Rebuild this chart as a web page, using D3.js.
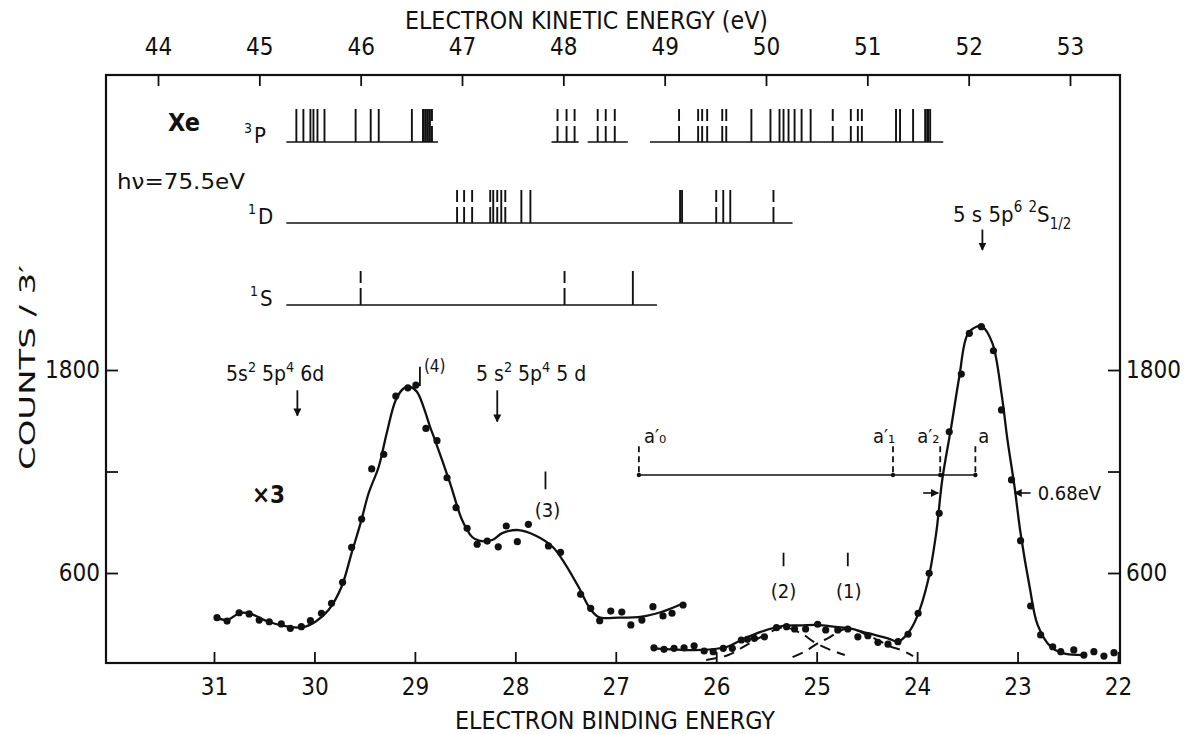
<!DOCTYPE html>
<html><head><meta charset="utf-8">
<script src="https://cdn.jsdelivr.net/npm/d3@7/dist/d3.min.js"></script>
<style>
body{margin:0;background:#fff;}
svg text{font-family:"DejaVu Sans Condensed","Liberation Sans Narrow","Roboto Condensed","DejaVu Sans",sans-serif;font-stretch:condensed;fill:#111;}
</style></head><body>
<svg id="chart" width="1185" height="734"></svg>
<script>
// ---------- axis ticks ----------
const bindingTicks = [31,30,29,28,27,26,25,24,23,22];
const kineticTicks = [44,45,46,47,48,49,50,51,52,53];
const countTicks = [600,1200,1800];
const countTickLabels = ["600","","1800"];

// ---------- 5s2 5p4 nl satellite region (x3), measured points ----------
const satBE = [30.97,30.87,30.75,30.65,30.55,30.45,30.33,30.24,30.13,30.04,29.93,29.83,29.72,29.63,29.53,29.43,29.31,29.19,29.07,28.99,28.89,28.78,28.68,28.59,28.48,28.38,28.28,28.17,28.09,27.98,27.87,27.67,27.55,27.35,27.25,27.16,27.05,26.94,26.85,26.74,26.63,26.53,26.44,26.33];
const satCounts = [336,316,365,358,322,312,299,273,283,318,362,421,545,752,919,1215,1302,1646,1695,1711,1455,1382,1163,986,864,770,789,755,878,785,888,760,722,474,391,318,375,369,293,322,401,346,362,411];
// smooth curve drawn through the satellite points
const satFitBE = [30.97,30.87,30.75,30.65,30.46,30.26,30.12,29.99,29.86,29.73,29.63,29.54,29.46,29.36,29.28,29.19,29.11,29.05,28.98,28.91,28.85,28.80,28.65,28.53,28.43,28.36,28.23,28.13,27.97,27.80,27.63,27.51,27.37,27.26,27.17,26.97,26.74,26.54,26.32];
const satFitCounts = [336,322,362,362,312,283,279,312,381,519,718,896,1073,1228,1428,1623,1692,1701,1672,1575,1465,1386,1132,913,813,791,795,836,854,822,755,659,517,393,340,336,342,371,423];

// ---------- 5s 5p6 main line region, measured points ----------
const mainBE = [26.62,26.52,26.42,26.32,26.22,26.12,26.03,25.93,25.84,25.75,25.69,25.62,25.52,25.40,25.30,25.22,25.11,24.99,24.91,24.79,24.69,24.59,24.49,24.39,24.29,24.19,24.09,23.99,23.88,23.78,23.68,23.56,23.48,23.36,23.24,23.16,23.06,22.97,22.87,22.77,22.65,22.57,22.44,22.34,22.24,22.14,22.04];
const mainCounts = [158,149,155,158,170,139,135,155,155,204,208,214,223,277,283,269,269,297,263,263,269,223,229,190,179,194,238,362,598,953,1435,1776,2017,2056,1914,1564,1150,791,405,234,164,135,145,115,135,109,129];
const mainFitBE = [26.63,26.15,25.89,25.75,25.55,25.33,25.16,24.99,24.81,24.67,24.49,24.29,24.19,24.08,24.00,23.89,23.81,23.75,23.66,23.58,23.50,23.41,23.35,23.25,23.16,23.10,23.03,22.97,22.88,22.80,22.67,22.54,22.34];
const mainFitCounts = [155,145,164,204,253,287,290,293,281,273,244,214,194,253,342,559,836,1150,1465,1760,2007,2056,2056,1958,1662,1386,1110,835,519,293,164,125,115];
// dashed decomposition into peaks (2) and (1)
const peak2BE = [26.10,25.88,25.70,25.50,25.33,25.16,25.01,24.86,24.72];
const peak2Counts = [86,115,174,239,278,245,186,145,115];
const peak1BE = [25.24,25.12,24.99,24.89,24.69,24.49,24.36,24.26,24.16,24.04];
const peak1Counts = [103,135,184,214,273,231,194,164,145,109];

// ---------- calculated Xe+ 5s2 5p4 nl levels (binding energy, eV) ----------
const levels3P = [30.18,30.11,30.04,30.01,29.97,29.90,29.59,29.44,29.36,29.03,28.92,28.91,28.89,28.87,28.85,25.65,25.46,25.37,25.33,25.28,25.22,25.15,25.06,24.21,24.17,24.04,23.92,23.90,23.89,23.87];
const levels3Pdashed = [28.83,27.58,27.49,27.41,27.18,27.10,27.01,26.37,26.18,26.14,26.09,25.94,25.90,24.84,24.66,24.59,24.55];
const baseline3P = [[30.28,28.77],[27.64,27.37],[27.28,26.88],[26.66,23.74]];
const levels1D = [28.22,28.14,27.94,27.85,26.36,26.34,25.93,25.86];
const levels1Ddashed = [28.58,28.51,28.43,28.25,28.18,28.10,26.00,25.43];
const baseline1D = [[30.28,25.24]];
const levels1S = [26.83];
const levels1Sdashed = [29.54,27.51];
const baseline1S = [[30.28,26.59]];

// ---------- annotation anchors ----------
const aLineBE = [26.77,24.24,23.77,23.42];   // a'0, a'1, a'2, a
const aLineCounts = 1179;

// ================= drawing =================
const svg = d3.select('#chart');
const plot = {left:106,right:1120,top:75,bottom:663};
const x = d3.scaleLinear().domain([31,22]).range([214,1118]);
const xTop = d3.scaleLinear().domain([44,53]).range([158,1070]);
const y = d3.scaleLinear().domain([68,3544]).range([663,75]);

svg.append('rect').attr('width',1185).attr('height',734).attr('fill','#fff');

const defs = svg.append('defs');
defs.append('marker').attr('id','ah').attr('viewBox','0 0 10 10').attr('refX',9).attr('refY',5)
  .attr('markerWidth',8).attr('markerHeight',8).attr('markerUnits','userSpaceOnUse').attr('orient','auto')
  .append('path').attr('d','M0,0 L10,5 L0,10 z').attr('fill','#111');

function styleAxis(g, fs){
  g.select('.domain').remove();
  g.selectAll('.tick line').attr('stroke','#111').attr('stroke-width',1.8);
  g.selectAll('.tick text').attr('font-size',fs).attr('fill','#111')
   .style('font-family','"DejaVu Sans Condensed","Liberation Sans Narrow","DejaVu Sans",sans-serif');
}
styleAxis(svg.append('g').attr('transform',`translate(0,${plot.bottom})`)
  .call(d3.axisBottom(x).tickValues(bindingTicks).tickSize(-11).tickPadding(15).tickFormat(d3.format('d'))),24);
styleAxis(svg.append('g').attr('transform',`translate(0,${plot.top})`)
  .call(d3.axisTop(xTop).tickValues(kineticTicks).tickSize(-11).tickPadding(20).tickFormat(d3.format('d'))),24);
styleAxis(svg.append('g').attr('transform',`translate(${plot.left},0)`)
  .call(d3.axisLeft(y).tickValues(countTicks).tickSize(-12).tickPadding(6).tickFormat((d,i)=>countTickLabels[i])),24);
styleAxis(svg.append('g').attr('transform',`translate(${plot.right},0)`)
  .call(d3.axisRight(y).tickValues(countTicks).tickSize(-12).tickPadding(6).tickFormat((d,i)=>countTickLabels[i])),24);

svg.append('rect').attr('x',plot.left).attr('y',plot.top).attr('width',plot.right-plot.left).attr('height',plot.bottom-plot.top)
  .attr('fill','none').attr('stroke','#111').attr('stroke-width',2.2);

// titles
svg.append('text').attr('x',405).attr('y',29).attr('font-size',25).attr('textLength',363).attr('lengthAdjust','spacingAndGlyphs')
  .text('ELECTRON  KINETIC ENERGY  (eV)');
svg.append('text').attr('x',455).attr('y',729).attr('font-size',25).attr('textLength',320).attr('lengthAdjust','spacingAndGlyphs')
  .text('ELECTRON  BINDING  ENERGY');
svg.append('text').attr('transform','translate(35,470) rotate(-90)').attr('font-size',22).attr('textLength',205).attr('lengthAdjust','spacingAndGlyphs')
  .text("COUNTS / 3′");

// ---------- level diagrams ----------
const rows = [
  {sup:'3', lab:'P', base:142, top:109, solid:levels3P, dashed:levels3Pdashed, segs:baseline3P, lx:244},
  {sup:'1', lab:'D', base:223, top:190, solid:levels1D, dashed:levels1Ddashed, segs:baseline1D, lx:248},
  {sup:'1', lab:'S', base:305, top:271, solid:levels1S, dashed:levels1Sdashed, segs:baseline1S, lx:250}
];
const lv = svg.append('g').attr('stroke','#111');
rows.forEach(r=>{
  r.segs.forEach(s=>lv.append('line').attr('x1',x(s[0])).attr('x2',x(s[1])).attr('y1',r.base).attr('y2',r.base).attr('stroke-width',1.6));
  lv.selectAll(null).data(r.solid).enter().append('line')
    .attr('x1',d=>x(d)).attr('x2',d=>x(d)).attr('y1',r.top).attr('y2',r.base).attr('stroke-width',1.9);
  lv.selectAll(null).data(r.dashed).enter().append('line')
    .attr('x1',d=>x(d)).attr('x2',d=>x(d)).attr('y1',r.top).attr('y2',r.base).attr('stroke-width',1.9)
    .attr('stroke-dasharray','12,5,20');
  const t = svg.append('text').attr('x',r.lx).attr('y',r.base+1).attr('font-size',22);
  t.append('tspan').attr('font-size',14).attr('dy',-10).text(r.sup);
  t.append('tspan').attr('dy',10).attr('dx',2).text(r.lab);
});
svg.append('text').attr('x',168).attr('y',131).attr('font-size',25).attr('font-weight','bold').text('Xe');
svg.append('text').attr('x',117).attr('y',189).attr('font-size',21).attr('textLength',128).attr('lengthAdjust','spacingAndGlyphs').text('hν=75.5eV');

// ---------- spectra ----------
const zip = (a,b)=>a.map((v,i)=>[v,b[i]]);
const line = d3.line().x(d=>x(d[0])).y(d=>y(d[1])).curve(d3.curveCatmullRom.alpha(0.5));
const cg = svg.append('g').attr('fill','none').attr('stroke','#111');
cg.append('path').attr('d',line(zip(satFitBE,satFitCounts))).attr('stroke-width',2.3);
cg.append('path').attr('d',line(zip(mainFitBE,mainFitCounts))).attr('stroke-width',2.3);
cg.append('path').attr('d',line(zip(peak2BE,peak2Counts))).attr('stroke-width',2).attr('stroke-dasharray','11,7');
cg.append('path').attr('d',line(zip(peak1BE,peak1Counts))).attr('stroke-width',2).attr('stroke-dasharray','11,7');
const dg = svg.append('g').attr('fill','#111');
dg.selectAll(null).data(zip(satBE,satCounts)).enter().append('circle').attr('cx',d=>x(d[0])).attr('cy',d=>y(d[1])).attr('r',3.6);
dg.selectAll(null).data(zip(mainBE,mainCounts)).enter().append('circle').attr('cx',d=>x(d[0])).attr('cy',d=>y(d[1])).attr('r',3.6);

// ---------- annotations ----------
function arrow(x1,y1,x2,y2,w){
  svg.append('line').attr('x1',x1).attr('y1',y1).attr('x2',x2).attr('y2',y2)
    .attr('stroke','#111').attr('stroke-width',w||1.8).attr('marker-end','url(#ah)');
}
function config(xp, yb, parts, fs){
  const t = svg.append('text').attr('x',xp).attr('y',yb).attr('font-size',fs);
  parts.forEach(p=>{
    const s = t.append('tspan').text(p[0]);
    if(p[1]==='sup') s.attr('font-size',fs*0.68).attr('dy',-fs*0.45);
    else if(p[1]==='sub') s.attr('font-size',fs*0.68).attr('dy',fs*0.3);
    else if(p[1]==='back') s.attr('dy',fs*0.45);
  });
  return t;
}
config(226,381,[['5s'],['2','sup'],[' 5p','back'],['4','sup'],[' 6d','back']],21);
arrow(x(30.17),y(1680),x(30.17),y(1530));
config(476,381,[['5 s'],['2','sup'],[' 5p','back'],['4','sup'],[' 5 d','back']],21);
arrow(x(28.18),y(1680),x(28.18),y(1495));
config(953,222,[['5 s 5p'],['6','sup'],[' ','back'],['2','sup'],['S','back'],['1/2','sub']],22);
arrow(x(23.35),y(2630),x(23.35),y(2510));

function marker(be, c1, c2){ svg.append('line').attr('x1',x(be)).attr('x2',x(be)).attr('y1',y(c1)).attr('y2',y(c2)).attr('stroke','#111').attr('stroke-width',1.8); }
marker(28.95,1820,1705); svg.append('text').attr('x',x(28.95)+4).attr('y',372).attr('font-size',17).text('(4)');
marker(27.70,1200,1095); svg.append('text').attr('x',x(27.70)+2).attr('y',517).attr('font-size',20).attr('text-anchor','middle').text('(3)');
marker(25.33,720,640); svg.append('text').attr('x',x(25.33)).attr('y',598).attr('font-size',20).attr('text-anchor','middle').text('(2)');
marker(24.69,720,640); svg.append('text').attr('x',x(24.69)+1).attr('y',598).attr('font-size',20).attr('text-anchor','middle').text('(1)');
svg.append('text').attr('x',252).attr('y',503).attr('font-size',24).attr('font-weight','bold').text('×3');

// a-line
svg.append('line').attr('x1',x(aLineBE[0])).attr('x2',x(aLineBE[3])).attr('y1',y(aLineCounts)).attr('y2',y(aLineCounts)).attr('stroke','#111').attr('stroke-width',1.6);
aLineBE.forEach(be=>{
  svg.append('line').attr('x1',x(be)).attr('x2',x(be)).attr('y1',y(1350)).attr('y2',y(aLineCounts)).attr('stroke','#111').attr('stroke-width',1.8).attr('stroke-dasharray','6,4');
  svg.append('circle').attr('cx',x(be)).attr('cy',y(aLineCounts)).attr('r',2.2).attr('fill','#111');
});
const aLabels = [['₀',5],['₁',-20],['₂',-23],[null,3]];
aLabels.forEach((l,i)=>{
  svg.append('text').attr('x',x(aLineBE[i])+l[1]).attr('y',443).attr('font-size',20)
    .text(l[0]!==null ? 'a′' + l[0] : 'a');
});
arrow(x(23.94),y(1073),x(23.79),y(1073),1.6);
arrow(x(22.87),y(1073),x(23.03),y(1073),1.6);
svg.append('text').attr('x',x(22.80)).attr('y',500).attr('font-size',20).text('0.68eV');
</script>
</body></html>
